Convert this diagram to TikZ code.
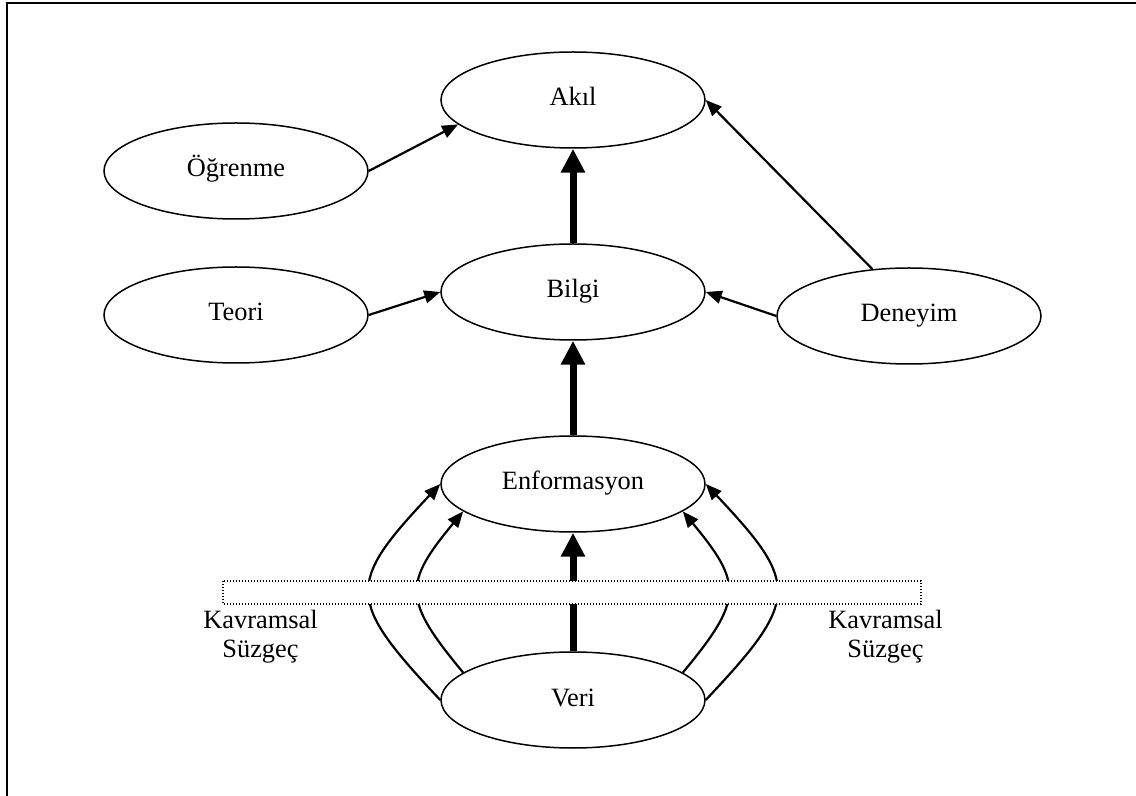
\documentclass[tikz,border=0pt]{standalone}
\usepackage{fontspec}
\setmainfont{Liberation Serif}
\usetikzlibrary{shapes.geometric,arrows.meta}
\begin{document}
\begin{tikzpicture}[x=0.5pt,y=-0.5pt,
  concept/.style={ellipse,draw,line width=0.75pt,minimum width=132pt,
    minimum height=48pt,inner sep=0pt,font=\fontsize{13.2}{15}\selectfont,
    text height=8.8pt,text depth=2.8pt},
  link/.style={line width=1.1pt,-{Triangle[length=8pt,width=6.5pt]}},
  flow/.style={line width=3.5pt,-{Triangle[length=12pt,width=11.5pt]}},
  filterbox/.style={draw,fill=white,line width=0.6pt,dash pattern=on 0.6pt off 0.9pt},
  note/.style={anchor=base,inner sep=0pt,font=\fontsize{13.2}{15}\selectfont}
]
\useasboundingbox (0,0) rectangle (1136,796);
% page frame
\draw[line width=1.25pt] (7,796) -- (7,3) -- (1136,3);

% concepts
\node[concept] (akil) at (573,100) {Akıl};
\node[concept] (ogr)  at (236,171) {Öğrenme};
\node[concept] (bilgi) at (573,292) {Bilgi};
\node[concept] (teori) at (236,315) {Teori};
\node[concept] (deney) at (909,316) {Deneyim};
\node[concept] (enf) at (573,484) {Enformasyon};
\node[concept] (veri) at (573,700) {Veri};

% thin links
\draw[link] (ogr.east) -- (akil.192);
\draw[link] (teori.east) -- (bilgi.west);
\draw[link] (deney.west) -- (bilgi.east);
\draw[link] (deney.128) -- (akil.east);

% main chain
\draw[flow] (bilgi.north) -- (akil.south);
\draw[flow] (enf.north) -- (bilgi.south);
\draw[flow] (veri.north) -- (enf.south);

% filtered paths from data to information
\draw[link] (veri.west) .. controls (346,600) and (346,584) .. (enf.west);
\draw[link] (veri.166) .. controls (403,600) and (403,584) .. (enf.194);
\draw[link] (veri.east) .. controls (800,600) and (800,584) .. (enf.east);
\draw[link] (veri.14) .. controls (743,600) and (743,584) .. (enf.-14);

% conceptual filter
\draw[filterbox] (223,581) rectangle (921,604);
\node[note] (kl1) at (260.5,629) {Kavramsal};
\node[note] (kl2) at (260.5,657) {Süzgeç};
\node[note] (kr1) at (885.5,629) {Kavramsal};
\node[note] (kr2) at (885.5,657) {Süzgeç};
\end{tikzpicture}
\end{document}
